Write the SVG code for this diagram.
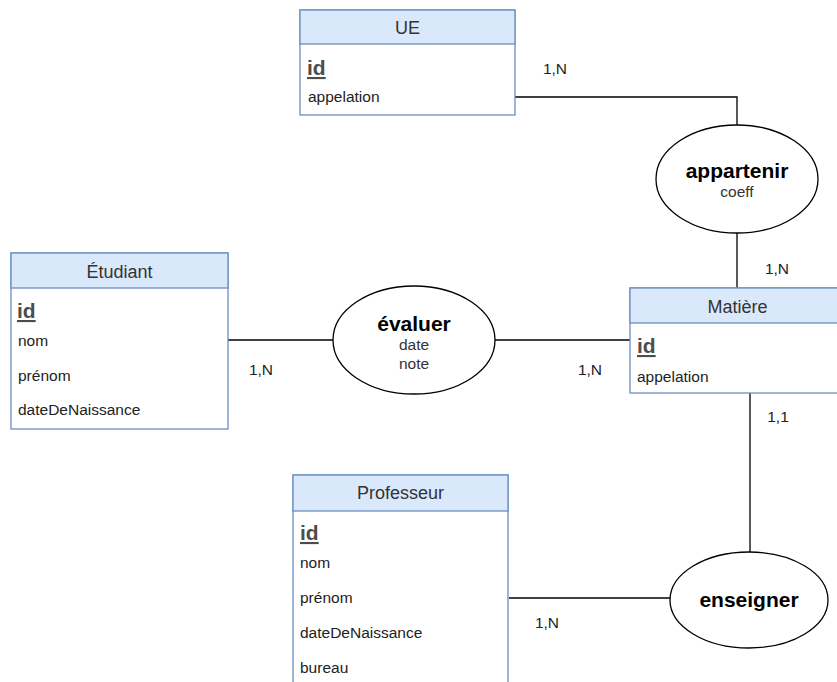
<svg xmlns="http://www.w3.org/2000/svg" width="837" height="682" viewBox="0 0 837 682">
<style>
  text { font-family: "Liberation Sans", Arial, sans-serif; }
  .box { fill: #ffffff; stroke: #6c8ebf; stroke-width: 1.3; }
  .hdr { fill: #dae8fc; stroke: #6c8ebf; stroke-width: 1.3; }
  .title { font-size: 18px; fill: #333333; text-anchor: middle; }
  .key { font-size: 21px; font-weight: bold; fill: #4d4d4d; text-decoration: underline; }
  .attr { font-size: 15.5px; fill: #222222; }
  .rel { fill: #ffffff; stroke: #000000; stroke-width: 1.3; }
  .rname { font-size: 21px; font-weight: bold; fill: #000000; text-anchor: middle; }
  .rattr { font-size: 15.5px; fill: #333333; text-anchor: middle; }
  .card { font-size: 15.5px; fill: #222222; text-anchor: middle; }
  .link { fill: none; stroke: #000000; stroke-width: 1.3; }
</style>

<g id="connectors">
  <polyline class="link" points="515,97 737,97 737,125"/>
  <line class="link" x1="737" y1="233" x2="737" y2="288"/>
  <line class="link" x1="228" y1="340" x2="333" y2="340"/>
  <line class="link" x1="495" y1="340" x2="630" y2="340"/>
  <line class="link" x1="750" y1="393" x2="750" y2="552"/>
  <line class="link" x1="509" y1="598" x2="670" y2="598"/>
  <text class="card" x="555" y="74">1,N</text>
  <text class="card" x="777" y="274">1,N</text>
  <text class="card" x="261" y="375">1,N</text>
  <text class="card" x="590" y="375">1,N</text>
  <text class="card" x="778" y="422">1,1</text>
  <text class="card" x="547" y="628">1,N</text>
</g>

<g id="UE">
  <rect class="box" x="300" y="10" width="215" height="105"/>
  <rect class="hdr" x="300" y="10" width="215" height="34"/>
  <text class="title" x="407.5" y="34">UE</text>
  <text class="key" x="307" y="75">id</text>
  <text class="attr" x="308" y="102">appelation</text>
</g>

<g id="Etudiant">
  <rect class="box" x="11" y="253" width="217" height="176"/>
  <rect class="hdr" x="11" y="253" width="217" height="35"/>
  <text class="title" x="119.5" y="278">Étudiant</text>
  <text class="key" x="17" y="318">id</text>
  <text class="attr" x="18" y="346">nom</text>
  <text class="attr" x="18" y="381">prénom</text>
  <text class="attr" x="18" y="415">dateDeNaissance</text>
</g>

<g id="Matiere">
  <rect class="box" x="630" y="288" width="215" height="105"/>
  <rect class="hdr" x="630" y="288" width="215" height="35"/>
  <text class="title" x="737.5" y="313">Matière</text>
  <text class="key" x="637" y="353">id</text>
  <text class="attr" x="637" y="382">appelation</text>
</g>

<g id="Professeur">
  <rect class="box" x="293" y="475" width="215" height="230"/>
  <rect class="hdr" x="293" y="475" width="215" height="36"/>
  <text class="title" x="400.5" y="499">Professeur</text>
  <text class="key" x="300" y="540">id</text>
  <text class="attr" x="300" y="568">nom</text>
  <text class="attr" x="300" y="603">prénom</text>
  <text class="attr" x="300" y="638">dateDeNaissance</text>
  <text class="attr" x="300" y="673">bureau</text>
</g>

<g id="appartenir">
  <ellipse class="rel" cx="737" cy="179" rx="81" ry="54"/>
  <text class="rname" x="737" y="178">appartenir</text>
  <text class="rattr" x="737" y="197">coeff</text>
</g>

<g id="evaluer">
  <ellipse class="rel" cx="414" cy="340" rx="81" ry="54"/>
  <text class="rname" x="414" y="331">évaluer</text>
  <text class="rattr" x="414" y="350">date</text>
  <text class="rattr" x="414" y="369">note</text>
</g>

<g id="enseigner">
  <ellipse class="rel" cx="749" cy="600" rx="79" ry="48"/>
  <text class="rname" x="749" y="607">enseigner</text>
</g>
</svg>
